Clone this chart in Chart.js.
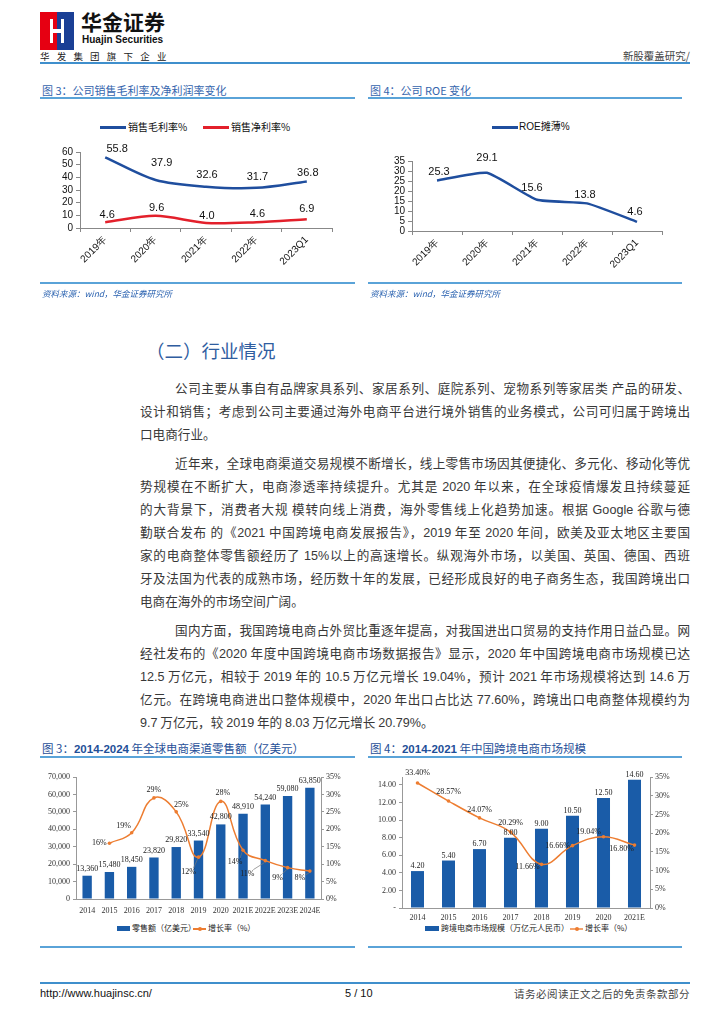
<!DOCTYPE html>
<html><head><meta charset="utf-8">
<script src="https://cdn.jsdelivr.net/npm/chart.js@4/dist/chart.umd.min.js"></script>
<style>
body{margin:0;width:724px;height:1024px;position:relative;background:#fff;font-family:"Noto Sans CJK SC","Liberation Sans",sans-serif;overflow:hidden;color:#222}
.a{position:absolute;white-space:nowrap}
.hl{position:absolute;height:2px;background:#5aa3d8}
.ttl{position:absolute;font-size:11px;color:#3565ad;line-height:14px;white-space:nowrap}
.ttl2{position:absolute;font-size:11.5px;color:#1f4f98;line-height:14px;white-space:nowrap}
.src{position:absolute;font-size:8.5px;color:#2a62b0;font-style:italic;line-height:12px;white-space:nowrap}
.ln{position:absolute;font-size:12.6px;line-height:18px;height:18px;text-align:justify;text-align-last:justify;white-space:nowrap;color:#383838}
.ln.last{text-align-last:left}
.cw{position:absolute}
.leg{position:absolute;font-size:10px;line-height:12px;color:#111;white-space:nowrap}
.legs{position:absolute;font-family:"Noto Sans CJK SC";font-size:8px;line-height:10px;color:#222;white-space:nowrap}
</style></head><body>
<!-- header -->
<div class="a" style="left:40px;top:12px;width:34px;height:38px;">
  <div class="a" style="left:0;top:0;width:17px;height:38px;background:#e60012"></div>
  <div class="a" style="left:17px;top:0;width:17px;height:38px;background:#1a3f95"></div>
  <div class="a" style="left:10px;top:7px;width:3px;height:24px;background:#fff"></div>
  <div class="a" style="left:21px;top:7px;width:3px;height:24px;background:#fff"></div>
  <div class="a" style="left:10px;top:17px;width:14px;height:4px;background:#fff"></div>
</div>
<div class="a" style="left:81px;top:7px;font-size:21px;font-weight:bold;line-height:28px;color:#111;letter-spacing:0px">华金证券</div>
<div class="a" style="left:82px;top:34px;font-family:'Liberation Sans';font-size:10px;font-weight:bold;line-height:12px;color:#111">Huajin Securities</div>
<div class="a" style="left:40px;top:50px;font-size:9.5px;line-height:12px;color:#222;letter-spacing:7.2px">华发集团旗下企业</div>
<div class="a" style="right:34px;top:50px;font-size:10.5px;line-height:12px;color:#444">新股覆盖研究/</div>
<div class="hl" style="left:40px;top:62px;width:650px;background:#3f8fcc"></div>

<!-- chart 1 -->
<div class="ttl" style="left:42px;top:83px">图 3：公司销售毛利率及净利润率变化</div>
<div class="hl" style="left:40px;top:97px;width:315px"></div>
<div class="a" style="left:100px;top:126px;width:26px;height:3px;background:#1f4e9e"></div>
<div class="leg" style="left:128px;top:121px">销售毛利率%</div>
<div class="a" style="left:203px;top:126px;width:26px;height:3px;background:#e3202b"></div>
<div class="leg" style="left:231px;top:121px">销售净利率%</div>
<div class="cw" style="left:40px;top:140px;width:315px;height:143px"><canvas id="c1"></canvas></div>
<div class="hl" style="left:40px;top:282px;width:315px"></div>
<div class="src" style="left:42px;top:287px">资料来源：wind，华金证券研究所</div>

<!-- chart 2 -->
<div class="ttl" style="left:370px;top:83px">图 4：公司 ROE 变化</div>
<div class="hl" style="left:368px;top:97px;width:314px"></div>
<div class="a" style="left:492px;top:126px;width:26px;height:3px;background:#1f4e9e"></div>
<div class="leg" style="left:519px;top:121px;font-family:'Liberation Sans','Noto Sans CJK SC'">ROE摊薄%</div>
<div class="cw" style="left:368px;top:140px;width:314px;height:143px"><canvas id="c2"></canvas></div>
<div class="hl" style="left:368px;top:282px;width:314px"></div>
<div class="src" style="left:370px;top:287px">资料来源：wind，华金证券研究所</div>

<!-- text -->
<div class="a" style="left:146px;top:338px;font-size:18.5px;line-height:24px;color:#2f5d9f">（二）行业情况</div>
<div id="body"></div>

<!-- chart 3 -->
<div class="ttl2" style="left:42px;top:741px">图 3：<b style="font-family:'Liberation Sans'">2014-2024</b> 年全球电商渠道零售额（亿美元）</div>
<div class="hl" style="left:40px;top:756px;width:315px"></div>
<div class="cw" style="left:40px;top:765px;width:315px;height:152px"><canvas id="c3"></canvas></div>
<div class="a" style="left:117px;top:926px;width:13px;height:5px;background:#1a5ca8"></div>
<div class="legs" style="left:132px;top:923px">零售额（亿美元）</div>
<div class="a" style="left:193px;top:928px;width:13px;height:1.5px;background:#ed7d31"></div>
<div class="a" style="left:197.5px;top:926.5px;width:4px;height:4px;border-radius:2px;background:#ed7d31"></div>
<div class="legs" style="left:208px;top:923px">增长率（%）</div>
<div class="hl" style="left:40px;top:946px;width:315px"></div>

<!-- chart 4 -->
<div class="ttl2" style="left:370px;top:741px">图 4：<b style="font-family:'Liberation Sans'">2014-2021</b> 年中国跨境电商市场规模</div>
<div class="hl" style="left:368px;top:756px;width:314px"></div>
<div class="cw" style="left:368px;top:765px;width:314px;height:157px"><canvas id="c4"></canvas></div>
<div class="a" style="left:425px;top:926px;width:14px;height:5px;background:#1a5ca8"></div>
<div class="legs" style="left:441px;top:923px">跨境电商市场规模（万亿元人民币）</div>
<div class="a" style="left:570px;top:928px;width:13px;height:1.5px;background:#f4a46e"></div>
<div class="a" style="left:574.5px;top:926.5px;width:4px;height:4px;border-radius:2px;background:#ed7d31"></div>
<div class="legs" style="left:585px;top:923px">增长率（%）</div>
<div class="hl" style="left:368px;top:946px;width:314px"></div>

<!-- footer -->
<div class="hl" style="left:40px;top:982px;width:650px;background:#3f8fcc"></div>
<div class="a" style="left:40px;top:987px;font-family:'Liberation Sans';font-size:11px;line-height:13px;color:#111">http://www.huajinsc.cn/</div>
<div class="a" style="left:345px;top:987px;font-family:'Liberation Sans';font-size:11px;line-height:13px;color:#111">5 / 10</div>
<div class="a" style="right:34px;top:987px;font-size:10.5px;line-height:13px;color:#444;letter-spacing:0.5px">请务必阅读正文之后的免责条款部分</div>

<script>
// ---------- data ----------
const years1 = ['2019年','2020年','2021年','2022年','2023Q1'];
const grossMargin = [55.8, 37.9, 32.6, 31.7, 36.8];
const netMargin = [4.6, 9.6, 4.0, 4.6, 6.9];
const roe = [25.3, 29.1, 15.6, 13.8, 4.6];
const years3 = ['2014','2015','2016','2017','2018','2019','2020','2021E','2022E','2023E','2024E'];
const retail3 = [13360, 15480, 18450, 23820, 29820, 33540, 42800, 48910, 54240, 59080, 63850];
const growth3 = [null, 16, 19, 29, 25, 12, 28, 14, 11, 9, 8];
const years4 = ['2014','2015','2016','2017','2018','2019','2020','2021E'];
const market4 = [4.20, 5.40, 6.70, 8.00, 9.00, 10.50, 12.50, 14.60];
const growth4 = [33.40, 28.57, 24.07, 20.29, 11.66, 16.66, 19.04, 16.80];

// ---------- body text ----------
const paras = [
 ['公司主要从事自有品牌家具系列、家居系列、庭院系列、宠物系列等家居类 产品的研发、',
  '设计和销售；考虑到公司主要通过海外电商平台进行境外销售的业务模式，公司可归属于跨境出',
  '口电商行业。'],
 ['近年来，全球电商渠道交易规模不断增长，线上零售市场因其便捷化、多元化、移动化等优',
  '势规模在不断扩大，电商渗透率持续提升。尤其是 2020 年以来，在全球疫情爆发且持续蔓延',
  '的大背景下，消费者大规 模转向线上消费，海外零售线上化趋势加速。根据 Google 谷歌与德',
  '勤联合发布 的《2021 中国跨境电商发展报告》，2019 年至 2020 年间，欧美及亚太地区主要国',
  '家的电商整体零售额经历了 15%以上的高速增长。纵观海外市场，以美国、英国、德国、西班',
  '牙及法国为代表的成熟市场，经历数十年的发展，已经形成良好的电子商务生态，我国跨境出口',
  '电商在海外的市场空间广阔。'],
 ['国内方面，我国跨境电商占外贸比重逐年提高，对我国进出口贸易的支持作用日益凸显。网',
  '经社发布的《2020 年度中国跨境电商市场数据报告》显示，2020 年中国跨境电商市场规模已达',
  '12.5 万亿元，相较于 2019 年的 10.5 万亿元增长 19.04%，预计 2021 年市场规模将达到 14.6 万',
  '亿元。在跨境电商进出口整体规模中，2020 年出口占比达 77.60%，跨境出口电商整体规模约为',
  '9.7 万亿元，较 2019 年的 8.03 万亿元增长 20.79%。']
];
(function(){
  const body=document.getElementById('body');
  let y=388; const step=23, gap=6;
  paras.forEach(p=>{
    p.forEach((t,i)=>{
      const d=document.createElement('div');
      d.className='ln'+(i===p.length-1?' last':'');
      const left = i===0?175:140;
      d.style.left=left+'px'; d.style.width=(690-left)+'px'; d.style.top=(y-9)+'px';
      d.innerHTML=t.replace(/([0-9A-Za-z.%]+)/g,'<span style="font-family:\'Liberation Sans\'">$1</span>');
      body.appendChild(d);
      if(i!==p.length-1){
        d.style.whiteSpace='normal';
        if(d.scrollHeight>20){ d.style.whiteSpace='nowrap'; d.style.fontSize='12.2px'; }
      }
      y+=step;
    });
    y+=gap;
  });
})();

// ---------- helpers ----------
Chart.defaults.animation=false;
function labelPlugin(specs){
  return {id:'vlabels', afterDatasetsDraw(chart){
    const ctx=chart.ctx;
    specs.forEach(s=>{
      const meta=chart.getDatasetMeta(s.ds);
      const vals=chart.data.datasets[s.ds].data;
      meta.data.forEach((el,i)=>{
        const v=vals[i]; if(v===null||v===undefined) return;
        const off = s.offsets ? s.offsets[i] : s.offset;
        const x=el.x+off[0], y=el.y+off[1];
        ctx.save();
        if(s.leaders && s.leaders[i]){
          ctx.strokeStyle='#777'; ctx.lineWidth=0.7; ctx.beginPath();
          ctx.moveTo(x+s.leaders[i][0], y+s.leaders[i][1]); ctx.lineTo(el.x-1, el.y+2); ctx.stroke();
        }
        ctx.font=s.font; ctx.fillStyle=s.color; ctx.textAlign='center'; ctx.textBaseline='middle';
        ctx.fillText(s.fmt(v), x, y);
        ctx.restore();
      });
    });
  }};
}
const sansFont={family:'Liberation Sans', size:10};
const serifFont={family:'Liberation Serif', size:8};
function lineScales(yMax, step, yW, xH){
  return {
    x:{offset:true, grid:{offset:true, drawOnChartArea:false, tickLength:4, color:'#888'}, border:{color:'#888'},
       ticks:{font:sansFont, color:'#111', minRotation:45, maxRotation:45, autoSkip:false, padding:2},
       afterFit:s=>{s.height=xH;}},
    y:{min:0, max:yMax, grid:{drawOnChartArea:false, tickLength:4, color:'#888'}, border:{color:'#888'},
       ticks:{stepSize:step, font:sansFont, color:'#111', padding:3, autoSkip:false},
       afterFit:s=>{s.width=yW;}}
  };
}

// ---------- chart 1 ----------
new Chart(document.getElementById('c1'),{
  type:'line',
  data:{labels:years1, datasets:[
    {data:grossMargin, borderColor:'#1f4e9e', borderWidth:2.5, pointRadius:0, tension:0.3},
    {data:netMargin, borderColor:'#e3202b', borderWidth:2.5, pointRadius:0, tension:0.3}
  ]},
  options:{responsive:true, maintainAspectRatio:false,
    layout:{padding:{top:12,right:23,left:0,bottom:0}},
    plugins:{legend:{display:false}, tooltip:{enabled:false}},
    scales:lineScales(60,10,40,55)},
  plugins:[labelPlugin([
    {ds:0, font:'11px "Liberation Sans"', color:'#111', fmt:v=>v.toFixed(1),
     offsets:[[12,-8],[6,-17],[1,-12],[1,-11],[1,-8]]},
    {ds:1, font:'11px "Liberation Sans"', color:'#111', fmt:v=>v.toFixed(1),
     offsets:[[2,-7],[1,-8],[1,-7],[1,-8],[0,-10]]}
  ])]
});

// ---------- chart 2 ----------
new Chart(document.getElementById('c2'),{
  type:'line',
  data:{labels:years1, datasets:[
    {data:roe, borderColor:'#1f4e9e', borderWidth:2.5, pointRadius:0, tension:0.15}
  ]},
  options:{responsive:true, maintainAspectRatio:false,
    layout:{padding:{top:21,right:20,left:0,bottom:0}},
    plugins:{legend:{display:false}, tooltip:{enabled:false}},
    scales:lineScales(35,5,44,52)},
  plugins:[labelPlugin([
    {ds:0, font:'11px "Liberation Sans"', color:'#111', fmt:v=>v.toFixed(1),
     offsets:[[2,-8],[0,-15],[-5,-12],[-2,-8],[-2,-10]]}
  ])]
});

// ---------- combo chart helper ----------
function comboScales(leftMax, leftStep, leftFmt, leftW, rightW, xH, xPad){
  return {
    x:{offset:true, grid:{display:false, drawTicks:false}, border:{color:'#999'},
       ticks:{font:serifFont, color:'#333', maxRotation:0, autoSkip:false, padding:xPad},
       afterFit:s=>{s.height=xH;}},
    y:{position:'left', min:0, max:leftMax, grid:{drawOnChartArea:false, tickLength:3, color:'#999'}, border:{color:'#999'},
       ticks:{stepSize:leftStep, includeBounds:false, font:serifFont, color:'#333', padding:3, callback:leftFmt, autoSkip:false},
       afterFit:s=>{s.width=leftW;}},
    y1:{position:'right', min:0, max:35, grid:{drawOnChartArea:false, tickLength:3, color:'#999'}, border:{color:'#999'},
       ticks:{stepSize:5, font:serifFont, color:'#333', padding:2, callback:v=>v+'%', autoSkip:false},
       afterFit:s=>{s.width=rightW;}}
  };
}

// ---------- chart 3 ----------
new Chart(document.getElementById('c3'),{
  type:'bar',
  data:{labels:years3, datasets:[
    {type:'line', data:growth3, yAxisID:'y1', borderColor:'#ed7d31', backgroundColor:'#ed7d31', borderWidth:1.5,
     pointRadius:1.8, pointBorderWidth:0, tension:0.45, order:0},
    {type:'bar', data:retail3, yAxisID:'y', backgroundColor:'#1a5ca8', barPercentage:0.42, categoryPercentage:1, order:1}
  ]},
  options:{responsive:true, maintainAspectRatio:false,
    layout:{padding:{top:12,right:12,left:0,bottom:0}},
    plugins:{legend:{display:false}, tooltip:{enabled:false}},
    scales:comboScales(70000,10000,v=>v.toLocaleString('en-US'),36,22,18,7)},
  plugins:[labelPlugin([
    {ds:1, font:'8px "Liberation Serif"', color:'#222', fmt:v=>v.toLocaleString('en-US'), offset:[0,-7]},
    {ds:0, font:'8px "Liberation Serif"', color:'#222', fmt:v=>v+'%',
     offsets:[[0,0],[-10,0],[-8,-7],[0,-8],[5,-7],[-10,15],[2,-8],[-8,12],[-18,13],[-10,10],[-10,7]],
     leaders:[null,null,null,null,null,[5,-4],null,[5,-4],[6,-4],[5,-4],[5,-3]]}
  ])]
});

// ---------- chart 4 ----------
new Chart(document.getElementById('c4'),{
  type:'bar',
  data:{labels:years4, datasets:[
    {type:'line', data:growth4, yAxisID:'y1', borderColor:'#ed7d31', backgroundColor:'#ed7d31', borderWidth:1.5,
     pointRadius:1.8, pointBorderWidth:0, tension:0.4, order:0},
    {type:'bar', data:market4, yAxisID:'y', backgroundColor:'#1a5ca8', barPercentage:0.42, categoryPercentage:1, order:1}
  ]},
  options:{responsive:true, maintainAspectRatio:false,
    layout:{padding:{top:12,right:10,left:0,bottom:0}},
    plugins:{legend:{display:false}, tooltip:{enabled:false}},
    scales:comboScales(14.9,2,v=>v===0?'-':v.toFixed(2),34,22,14,5)},
  plugins:[labelPlugin([
    {ds:1, font:'8px "Liberation Serif"', color:'#222', fmt:v=>v.toFixed(2), offset:[0,-5]},
    {ds:0, font:'8px "Liberation Serif"', color:'#222', fmt:v=>v.toFixed(2)+'%',
     offsets:[[0,-10],[0,-9],[0,-8],[0,-9],[-14,3],[-15,0],[-15,-5],[-13,4]]}
  ])]
});
</script>
</body></html>
